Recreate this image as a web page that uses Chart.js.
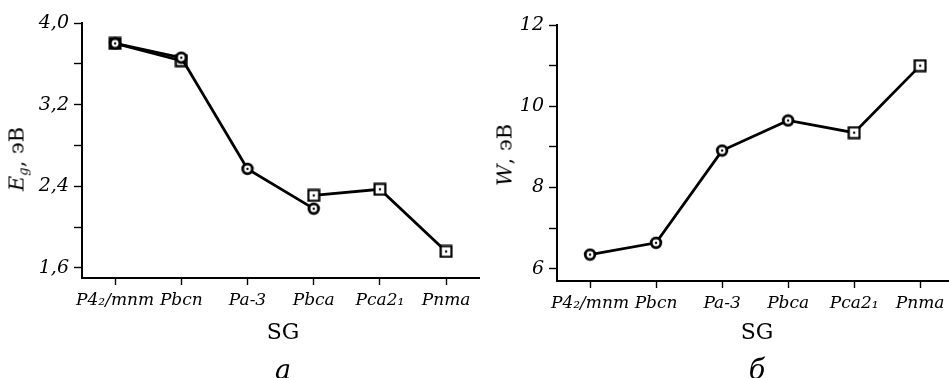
<!DOCTYPE html>
<html>
<head>
<meta charset="utf-8">
<script src="https://cdn.jsdelivr.net/npm/chart.js@4.4.0/dist/chart.umd.min.js"></script>
<style>
html, body { margin: 0; padding: 0; width: 949px; height: 378px; overflow: hidden; background: #fff; }
.box { position: absolute; top: 0; height: 378px; }
.lbl { position: absolute; font-family: "DejaVu Serif", serif; color: #000; white-space: nowrap; line-height: 1; transform: translate(-50%, -50%); }
.ytitle { font-size: 21px; transform: translate(-50%, -50%) rotate(-90deg); }
.ytitle sub { font-size: 13px; font-style: italic; vertical-align: -4px; }
.sg { font-size: 22px; }
.cap { font-size: 27px; font-style: italic; }
</style>
</head>
<body>
<div class="box" style="left:0;width:486px"><canvas id="chartA"></canvas></div>
<div class="box" style="left:490px;width:470px"><canvas id="chartB"></canvas></div>

<div class="lbl ytitle" style="left:18px;top:159px"><i>E</i><sub>g</sub>, эВ</div>
<div class="lbl ytitle" style="left:505px;top:155px"><i>W</i>, эВ</div>
<div class="lbl sg" style="left:283px;top:332px">SG</div>
<div class="lbl sg" style="left:757px;top:332px">SG</div>
<div class="lbl cap" style="left:283px;top:369px">а</div>
<div class="lbl cap" style="left:757px;top:369px">б</div>

<script>
var categories = ['P4₂/mnm', 'Pbcn', 'Pa-3', 'Pbca', 'Pca2₁', 'Pnma'];

// panel a: band gap, two sets of points
var egCircles = [3.80, 3.66, 2.57, 2.18, null, null];
var egSquares = [3.80, 3.63, null, 2.31, 2.37, 1.76];
var egSquareMarkers = ['filled', 'square', 'square', 'square', 'square', 'square'];
var egTicks = [1.6, 2.0, 2.4, 2.8, 3.2, 3.6, 4.0];
var egTickLabels = ['1,6', '', '2,4', '', '3,2', '', '4,0'];

// panel b: W
var wValues = [6.35, 6.64, 8.91, 9.65, 9.35, 11.0];
var wMarkers = ['circle', 'circle', 'circle', 'circle', 'square', 'square'];
var wTicks = [6, 7, 8, 9, 10, 11, 12];
var wTickLabels = ['6', '', '8', '', '10', '', '12'];

function makeMarker(kind) {
    var c = document.createElement('canvas');
    c.width = 14; c.height = 14;
    var ctx = c.getContext('2d');
    ctx.fillStyle = '#fff';
    ctx.strokeStyle = '#000';
    if (kind === 'circle') {
        ctx.lineWidth = 2.8;
        ctx.beginPath(); ctx.arc(7, 7, 4.8, 0, Math.PI * 2); ctx.fill(); ctx.stroke();
    } else {
        ctx.lineWidth = 2.2;
        ctx.fillStyle = kind === 'filled' ? '#000' : '#fff';
        ctx.fillRect(1, 1, 12, 12);
        ctx.strokeRect(1.6, 1.6, 10.8, 10.8);
        if (kind === 'filled') {
            ctx.fillStyle = '#fff';
            ctx.beginPath(); ctx.arc(7, 7, 3, 0, Math.PI * 2); ctx.fill();
        }
    }
    ctx.fillStyle = '#000';
    ctx.beginPath(); ctx.arc(7, 7, 1.2, 0, Math.PI * 2); ctx.fill();
    return c;
}
var markerImgs = { circle: makeMarker('circle'), square: makeMarker('square'), filled: makeMarker('filled') };

function buildOptions(yMin, yMax, tickValues, tickLabels, axisWidth, padTop, xHeight) {
    return {
        responsive: true,
        maintainAspectRatio: false,
        animation: false,
        layout: { padding: { top: padTop, right: 2, left: 0, bottom: 0 } },
        plugins: { legend: { display: false }, tooltip: { enabled: false } },
        scales: {
            x: {
                offset: true,
                grid: { display: true, drawOnChartArea: false, offset: false, color: '#000', tickLength: 7, tickWidth: 1.4 },
                border: { display: true, color: '#000', width: 2 },
                ticks: {
                    color: '#000', autoSkip: false, maxRotation: 0, minRotation: 0, padding: 5,
                    font: { family: 'DejaVu Serif', style: 'italic', size: 17 }
                },
                afterFit: function (s) { s.height = xHeight; }
            },
            y: {
                min: yMin,
                max: yMax,
                afterBuildTicks: function (s) { s.ticks = tickValues.map(function (v) { return { value: v }; }); },
                grid: { display: true, drawOnChartArea: false, color: '#000', tickLength: 8, tickWidth: 1.4 },
                border: { display: true, color: '#000', width: 2 },
                ticks: {
                    color: '#000', padding: 5,
                    font: { family: 'DejaVu Serif', style: 'italic', size: 19 },
                    callback: function (v, i) { return tickLabels[i]; }
                },
                afterFit: function (s) { s.width = axisWidth; }
            }
        }
    };
}

new Chart(document.getElementById('chartA').getContext('2d'), {
    type: 'line',
    data: {
        labels: categories,
        datasets: [
            {
                data: egCircles,
                borderColor: '#000', borderWidth: 2.8, tension: 0, spanGaps: false,
                pointStyle: markerImgs.circle
            },
            {
                data: egSquares,
                borderColor: '#000', borderWidth: 2.8, tension: 0, spanGaps: false,
                pointStyle: egSquareMarkers.map(function (m) { return markerImgs[m]; })
            }
        ]
    },
    options: buildOptions(1.5, 4.0, egTicks, egTickLabels, 82, 23, 100)
});

new Chart(document.getElementById('chartB').getContext('2d'), {
    type: 'line',
    data: {
        labels: categories,
        datasets: [
            {
                data: wValues,
                borderColor: '#000', borderWidth: 2.8, tension: 0,
                pointStyle: wMarkers.map(function (m) { return markerImgs[m]; })
            }
        ]
    },
    options: buildOptions(5.7, 12, wTicks, wTickLabels, 67, 25, 97)
});
</script>
</body>
</html>
